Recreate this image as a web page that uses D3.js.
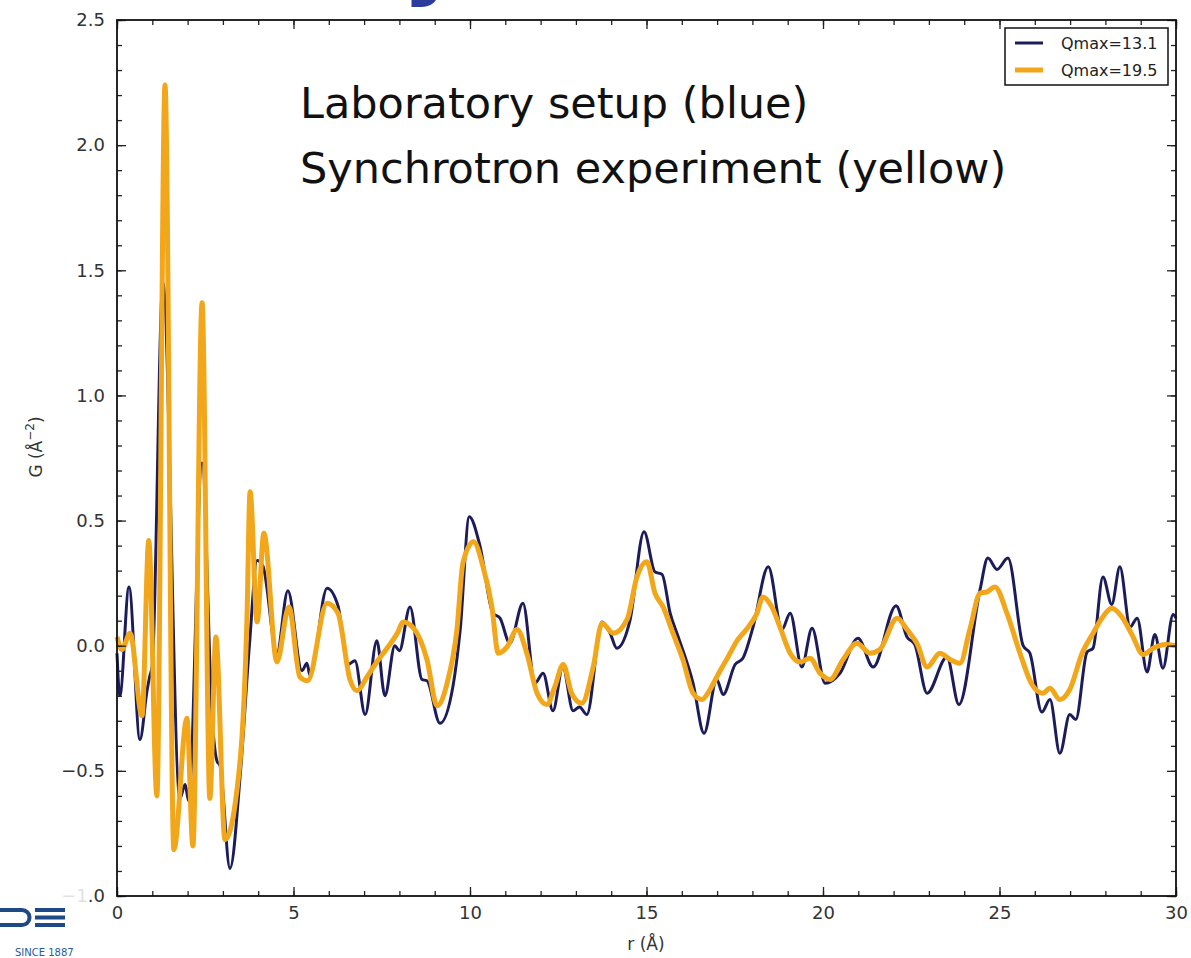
<!DOCTYPE html>
<html>
<head>
<meta charset="utf-8">
<script src="https://cdn.jsdelivr.net/npm/d3@7"></script>
<style>
  body { margin: 0; background: #fff; }
  text { font-family: 'DejaVu Sans', Verdana, sans-serif; }
</style>
</head>
<body>
<script>
// Qmax=13.1 (laboratory, blue)
const labR = [0, 0.08, 0.34, 0.65, 0.85, 0.93, 1.0, 1.30, 1.78, 1.93, 2.03, 2.41, 2.7, 2.83, 2.92, 3.2, 3.5, 3.75,
  3.97, 4.13, 4.53, 4.84, 5.24, 5.38, 5.47, 5.95, 6.26, 6.54, 6.74, 7.03, 7.36, 7.59, 7.87, 8.0, 8.3, 8.64, 8.78,
  9.15, 9.52, 9.72, 9.98, 10.28, 10.65, 10.85, 11.13, 11.5, 11.84, 12.07, 12.35, 12.63, 12.92, 13.1, 13.31, 13.74,
  13.97, 14.16, 14.53, 14.93, 15.24, 15.44, 15.67, 15.9, 16.32, 16.63, 16.99, 17.17, 17.51, 17.73, 18.02, 18.45,
  18.84, 19.07, 19.4, 19.69, 20.06, 20.48, 20.99, 21.42, 22.07, 22.38, 22.6, 22.95, 23.51, 23.85, 24.45, 24.67,
  24.93, 25.24, 25.67, 25.86, 26.2, 26.43, 26.71, 26.99, 27.16, 27.48, 27.65, 27.93, 28.18, 28.41, 28.7, 28.9,
  29.18, 29.4, 29.63, 29.92, 30];
const labG = [-0.03, -0.2, 0.235, -0.375, -0.18, -0.12, -0.08, 1.45, -0.61, -0.555, -0.62, 0.73, -0.3, -0.46, -0.48,
  -0.89, -0.5, 0.0, 0.34, 0.32, -0.03, 0.22, -0.10, -0.07, -0.12, 0.23, 0.16, -0.075, -0.06, -0.275, 0.02, -0.2,
  0.0, -0.02, 0.155, -0.135, -0.14, -0.31, -0.16, 0.06, 0.515, 0.4, 0.13, 0.11, 0.01, 0.17, -0.15, -0.11, -0.26,
  -0.085, -0.26, -0.245, -0.275, 0.095, 0.05, -0.01, 0.10, 0.455, 0.295, 0.285, 0.13, 0.035, -0.15, -0.35, -0.135,
  -0.195, -0.075, -0.05, 0.075, 0.315, 0.065, 0.13, -0.085, 0.07, -0.15, -0.11, 0.03, -0.085, 0.16, 0.035, 0.005,
  -0.19, -0.045, -0.235, 0.225, 0.35, 0.305, 0.35, 0.0, -0.03, -0.265, -0.215, -0.43, -0.275, -0.295, -0.025,
  -0.01, 0.275, 0.165, 0.315, 0.075, 0.11, -0.105, 0.045, -0.09, 0.125, 0.11];

// Qmax=19.5 (synchrotron, yellow)
const synR = [0, 0.14, 0.37, 0.71, 0.9, 1.13, 1.36, 1.61, 1.98, 2.15, 2.41, 2.63, 2.8, 3.06, 3.4, 3.68, 3.77, 3.97,
  4.16, 4.53, 4.87, 5.18, 5.4, 5.95, 6.26, 6.6, 6.8, 7.08, 7.36, 7.65, 7.96, 8.1, 8.4, 8.78, 9.07, 9.35, 9.63, 9.8,
  10.1, 10.37, 10.62, 10.8, 11.05, 11.33, 11.61, 11.9, 12.18, 12.4, 12.64, 12.88, 13.17, 13.49, 13.74, 14.06,
  14.45, 14.73, 15.01, 15.24, 15.47, 15.75, 16.03, 16.32, 16.57, 16.8, 16.99, 17.31, 17.59, 17.83, 18.13, 18.3,
  18.55, 18.78, 19.07, 19.35, 19.63, 19.92, 20.2, 20.57, 20.96, 21.33, 21.61, 22.1, 22.38, 22.66, 22.95, 23.31,
  23.6, 23.88, 24.16, 24.45, 24.65, 24.87, 25.21, 25.58, 25.92, 26.23, 26.43, 26.71, 26.99, 27.34, 27.65, 27.9,
  28.18, 28.47, 28.75, 29.07, 29.35, 29.69, 30];
const synG = [0.035, -0.015, 0.05, -0.28, 0.42, -0.6, 2.24, -0.815, -0.29, -0.8, 1.37, -0.61, 0.035, -0.775, -0.575,
  0.1, 0.615, 0.095, 0.45, -0.065, 0.155, -0.125, -0.14, 0.17, 0.13, -0.135, -0.18, -0.125, -0.065, -0.01, 0.055,
  0.095, 0.07, -0.055, -0.24, -0.15, 0.065, 0.33, 0.415, 0.315, 0.155, -0.03, -0.005, 0.065, -0.03, -0.19, -0.235,
  -0.165, -0.075, -0.19, -0.23, -0.085, 0.09, 0.05, 0.105, 0.275, 0.335, 0.21, 0.155, 0.05, -0.055, -0.19, -0.215,
  -0.175, -0.125, -0.045, 0.025, 0.065, 0.13, 0.195, 0.155, 0.075, -0.03, -0.065, -0.05, -0.11, -0.135, -0.055,
  0.01, -0.03, -0.015, 0.11, 0.065, 0.01, -0.085, -0.03, -0.055, -0.07, 0.065, 0.21, 0.215, 0.235, 0.13, -0.03,
  -0.155, -0.19, -0.17, -0.215, -0.175, -0.03, 0.05, 0.11, 0.15, 0.115, 0.045, -0.035, -0.01, 0.005, 0.0];

const xTicks = [0, 5, 10, 15, 20, 25, 30];
const xMinor = d3.range(0, 31, 1);
const yTicks = [-1.0, -0.5, 0.0, 0.5, 1.0, 1.5, 2.0, 2.5];
const yMinor = d3.range(-10, 26, 1).map(d => d / 10);
const legendLabels = ['Qmax=13.1', 'Qmax=19.5'];
const noteLines = ['Laboratory setup (blue)', 'Synchrotron experiment (yellow)'];

const blue = '#1c1c5c';
const yellow = '#f2a71b';

const svg = d3.select('body').append('svg')
  .attr('width', 1191)
  .attr('height', 958);

const x = d3.scaleLinear().domain([0, 30]).range([117, 1176]);
const y = d3.scaleLinear().domain([-1, 2.5]).range([896, 20]);

// cut-off slide title above the plot
svg.append('text')
  .attr('x', 402)
  .attr('y', -13)
  .attr('font-size', 95)
  .attr('font-weight', 'bold')
  .attr('fill', '#2b3c9e')
  .text('y');

// curves
const line = d3.line().curve(d3.curveMonotoneX);
const labPts = labR.map((r, i) => [x(r), y(labG[i])]);
const synPts = synR.map((r, i) => [x(r), y(synG[i])]);

svg.append('path')
  .attr('d', line(labPts))
  .attr('fill', 'none')
  .attr('stroke', blue)
  .attr('stroke-width', 3)
  .attr('stroke-linejoin', 'round');

svg.append('path')
  .attr('d', line(synPts))
  .attr('fill', 'none')
  .attr('stroke', yellow)
  .attr('stroke-width', 5)
  .attr('stroke-linejoin', 'round');

// axes, ticks pointing inward on all sides
function styleAxis(g) {
  g.select('.domain').remove();
  g.selectAll('line').attr('stroke', '#222').attr('stroke-width', 1.3);
  g.selectAll('text')
    .attr('font-family', "'DejaVu Sans', sans-serif")
    .attr('font-size', 18)
    .attr('fill', '#333');
}

svg.append('g').attr('transform', 'translate(0,896)')
  .call(d3.axisBottom(x).tickValues(xMinor).tickSize(-5).tickFormat(''))
  .call(styleAxis);
svg.append('g').attr('transform', 'translate(0,896)')
  .call(d3.axisBottom(x).tickValues(xTicks).tickSize(-9).tickPadding(10).tickFormat(d3.format('d')))
  .call(styleAxis);
svg.append('g').attr('transform', 'translate(0,20)')
  .call(d3.axisTop(x).tickValues(xMinor).tickSize(-5).tickFormat(''))
  .call(styleAxis);
svg.append('g').attr('transform', 'translate(0,20)')
  .call(d3.axisTop(x).tickValues(xTicks).tickSize(-9).tickFormat(''))
  .call(styleAxis);

svg.append('g').attr('transform', 'translate(117,0)')
  .call(d3.axisLeft(y).tickValues(yMinor).tickSize(-5).tickFormat(''))
  .call(styleAxis);
svg.append('g').attr('transform', 'translate(117,0)')
  .call(d3.axisLeft(y).tickValues(yTicks).tickSize(-9).tickPadding(12).tickFormat(d3.format('.1f')))
  .call(styleAxis);
svg.append('g').attr('transform', 'translate(1176,0)')
  .call(d3.axisRight(y).tickValues(yMinor).tickSize(-5).tickFormat(''))
  .call(styleAxis);
svg.append('g').attr('transform', 'translate(1176,0)')
  .call(d3.axisRight(y).tickValues(yTicks).tickSize(-9).tickFormat(''))
  .call(styleAxis);

// frame
svg.append('rect')
  .attr('x', 117)
  .attr('y', 20)
  .attr('width', 1176 - 117)
  .attr('height', 896 - 20)
  .attr('fill', 'none')
  .attr('stroke', '#111')
  .attr('stroke-width', 1.8);

// axis titles
svg.append('text')
  .attr('x', 646)
  .attr('y', 950)
  .attr('text-anchor', 'middle')
  .attr('font-size', 17)
  .attr('fill', '#333')
  .text('r (Å)');

const gLabel = svg.append('text')
  .attr('transform', 'translate(42,447) rotate(-90)')
  .attr('text-anchor', 'middle')
  .attr('font-size', 17)
  .attr('fill', '#333');
gLabel.append('tspan').text('G (Å');
gLabel.append('tspan').attr('dy', -8).attr('font-size', 12).text('−2');
gLabel.append('tspan').attr('dy', 8).text(')');

// annotation
noteLines.forEach((t, i) => {
  svg.append('text')
    .attr('x', 300)
    .attr('y', 118 + i * 65)
    .attr('font-size', 43)
    .attr('fill', '#111')
    .text(t);
});

// legend
svg.append('rect')
  .attr('x', 1005)
  .attr('y', 28)
  .attr('width', 163)
  .attr('height', 57)
  .attr('fill', '#fff')
  .attr('stroke', '#111')
  .attr('stroke-width', 1.5);

[blue, yellow].forEach((c, i) => {
  svg.append('line')
    .attr('x1', 1015)
    .attr('x2', 1043)
    .attr('y1', 43 + i * 27)
    .attr('y2', 43 + i * 27)
    .attr('stroke', c)
    .attr('stroke-width', i === 0 ? 3 : 5);
  svg.append('text')
    .attr('x', 1061)
    .attr('y', 49 + i * 27)
    .attr('font-size', 16)
    .attr('fill', '#222')
    .text(legendLabels[i]);
});

// slide logo in the corner, over the bottom-left tick label
svg.append('rect')
  .attr('x', 0)
  .attr('y', 880)
  .attr('width', 87)
  .attr('height', 78)
  .attr('fill', '#fff')
  .attr('opacity', 0.85);

const logo = svg.append('g').attr('fill', '#1d4a86');
logo.append('rect').attr('x', 0).attr('y', 908).attr('width', 22).attr('height', 4);
logo.append('rect').attr('x', 0).attr('y', 923).attr('width', 22).attr('height', 4);
logo.append('path')
  .attr('d', 'M22,908 A9.5,9.5 0 0 1 22,927 L22,923 A5.5,5.5 0 0 0 22,912 Z');
logo.append('rect').attr('x', 35).attr('y', 908).attr('width', 30).attr('height', 4);
logo.append('rect').attr('x', 35).attr('y', 915.5).attr('width', 30).attr('height', 4);
logo.append('rect').attr('x', 35).attr('y', 923).attr('width', 30).attr('height', 4);

svg.append('text')
  .attr('x', 15)
  .attr('y', 956)
  .attr('font-size', 10)
  .attr('fill', '#2a5a9a')
  .text('SINCE 1887');
</script>
</body>
</html>
